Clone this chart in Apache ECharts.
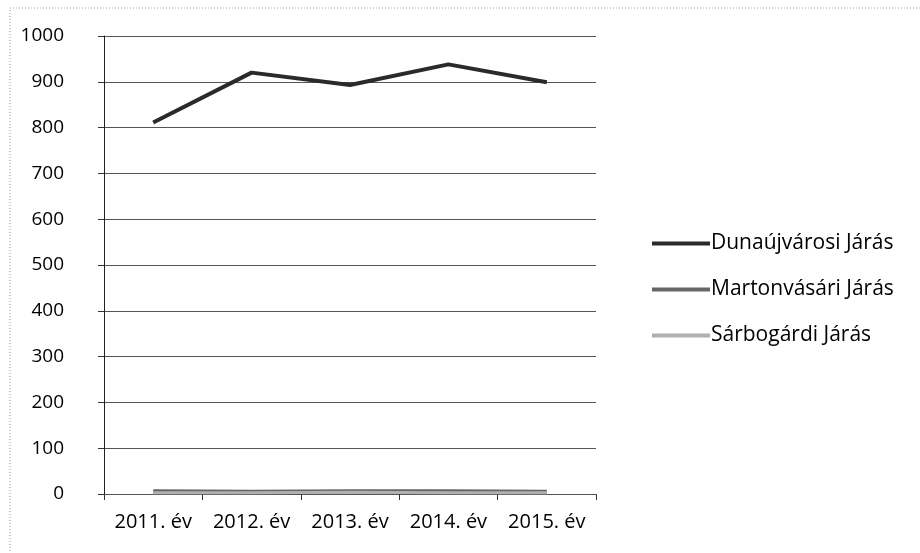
<!DOCTYPE html>
<html>
<head>
<meta charset="utf-8">
<script src="https://cdn.jsdelivr.net/npm/echarts@6/dist/echarts.min.js"></script>
<style>
  html, body { margin: 0; padding: 0; background: #fff; }
  #chart { width: 920px; height: 553px; }
</style>
</head>
<body>
<div id="chart"></div>
<script>
// data
const years = ['2011. év', '2012. év', '2013. év', '2014. év', '2015. év'];
const dunaujvarosi = [811, 920, 893, 938, 899];
const martonvasari = [6, 5, 6, 6, 5];
const sarbogardi = [3, 3, 4, 3, 3];
const yTicks = { min: 0, max: 1000, interval: 100 };

const font = '"Open Sans", "DejaVu Sans", sans-serif';

const chart = echarts.init(document.getElementById('chart'));

const option = {
  backgroundColor: '#fff',
  animation: false,
  graphic: [
    {
      type: 'rect',
      shape: { x: 10, y: 8, width: 960, height: 600 },
      style: { fill: 'none', stroke: '#9a9a9a', lineWidth: 1, lineDash: [1, 2] },
      silent: true,
    },
  ],
  grid: { left: 104, right: 324, top: 36, bottom: 59 },
  legend: {
    orient: 'vertical',
    left: 647,
    top: 228,
    itemWidth: 58,
    itemHeight: 4,
    itemGap: 25,
    icon: 'rect',
    textStyle: { fontFamily: font, fontSize: 21, color: '#000', padding: [0, 0, 0, -4] },
    data: ['Dunaújvárosi Járás', 'Martonvásári Járás', 'Sárbogárdi Járás'],
  },
  xAxis: {
    type: 'category',
    data: years,
    boundaryGap: true,
    axisLine: { lineStyle: { color: '#555', width: 1 } },
    axisTick: { show: true, length: 6, inside: false, lineStyle: { color: '#333' } },
    axisLabel: { fontFamily: font, fontSize: 20, color: '#000', margin: 18, interval: 0 },
  },
  yAxis: {
    type: 'value',
    min: yTicks.min,
    max: yTicks.max,
    interval: yTicks.interval,
    axisLine: { show: true, lineStyle: { color: '#222', width: 1 } },
    axisTick: { show: true, length: 6, lineStyle: { color: '#333' } },
    axisLabel: {
      fontFamily: font,
      fontSize: 19,
      color: '#000',
      margin: 40,
      formatter: (v) => String(v),
    },
    splitLine: { show: true, lineStyle: { color: '#555', width: 1 } },
  },
  series: [
    {
      name: 'Dunaújvárosi Járás',
      type: 'line',
      data: dunaujvarosi,
      symbol: 'none',
      lineStyle: { color: '#2a2a2a', width: 4 },
      itemStyle: { color: '#2a2a2a' },
      z: 5,
    },
    {
      name: 'Martonvásári Járás',
      type: 'line',
      data: martonvasari,
      symbol: 'none',
      lineStyle: { color: '#666', width: 4 },
      itemStyle: { color: '#666' },
    },
    {
      name: 'Sárbogárdi Járás',
      type: 'line',
      data: sarbogardi,
      symbol: 'none',
      lineStyle: { color: '#b0b0b0', width: 3 },
      itemStyle: { color: '#b0b0b0' },
    },
  ],
};

chart.setOption(option);
</script>
</body>
</html>
